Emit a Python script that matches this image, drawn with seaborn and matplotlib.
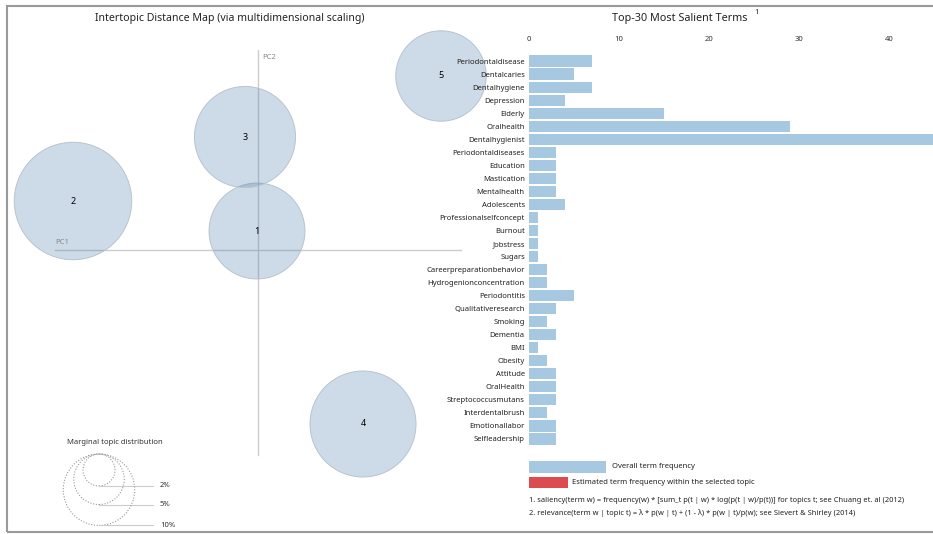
import matplotlib.pyplot as plt
import seaborn as sns
import numpy as np
from matplotlib.patches import Circle, Rectangle

# Topic data (MDS coordinates and marginal topic distribution in %)
topics = ['1', '2', '3', '4', '5']
pc1 = [-0.002, -0.370, -0.026, 0.210, 0.366]
pc2 = [0.038, 0.098, 0.226, -0.348, 0.348]
marginal = [18, 27, 20, 22, 16]

# Top-30 salient terms and overall frequency
terms = ['Periodontaldisease', 'Dentalcaries', 'Dentalhygiene', 'Depression', 'Elderly',
         'Oralhealth', 'Dentalhygienist', 'Periodontaldiseases', 'Education', 'Mastication',
         'Mentalhealth', 'Adolescents', 'Professionalselfconcept', 'Burnout', 'Jobstress',
         'Sugars', 'Careerpreparationbehavior', 'Hydrogenionconcentration', 'Periodontitis',
         'Qualitativeresearch', 'Smoking', 'Dementia', 'BMI', 'Obesity', 'Attitude',
         'OralHealth', 'Streptococcusmutans', 'Interdentalbrush', 'Emotionallabor',
         'Selfleadership']
freq = [7, 5, 7, 4, 15, 29, 47, 3, 3, 3, 3, 4, 1, 1, 1, 1, 2, 2, 5, 3, 2, 3, 1, 2, 3,
        3, 3, 2, 3, 3]
xticks = [0, 10, 20, 30, 40]
legend_pcts = [2, 5, 10]

plt.rcParams['font.family'] = ['Noto Sans', 'DejaVu Sans']

W, H = 933, 534
fig = plt.figure(figsize=(W / 100, H / 100), dpi=100)
fig.patch.set_facecolor('white')

def fx(px):
    return px / W

def fy(py):
    return 1 - py / H

# ---- Left panel: intertopic distance map ----
scale = 500.0  # pixels per MDS unit
ox, oy = 258, 250
ax = fig.add_axes([0, 0, 1, 1], zorder=0)
ax.set_xlim(-ox / scale, (W - ox) / scale)
ax.set_ylim(-(H - oy) / scale, oy / scale)
ax.axis('off')

rk = 0.0226  # radius per sqrt(percent)
ax.plot([0, 0], [-0.41, 0.40], color='#cccccc', lw=1, zorder=1)
ax.plot([-0.406, 0.406], [0, 0], color='#cccccc', lw=1, zorder=1)
ax.text(0.008, 0.385, 'PC2', fontsize=5.5, color='#888888', va='center')
ax.text(-0.406, 0.014, 'PC1', fontsize=5.5, color='#888888', va='center')

for t, x, y, p in zip(topics, pc1, pc2, marginal):
    ax.add_patch(Circle((x, y), rk * np.sqrt(p), facecolor='#3773a3', alpha=0.25,
                        edgecolor='none', zorder=2, clip_on=False))
    ax.add_patch(Circle((x, y), rk * np.sqrt(p), fill=False, edgecolor='#b8c4ce',
                        lw=0.7, zorder=2, clip_on=False))
    ax.text(x, y, t, ha='center', va='center', fontsize=6.5, fontweight='bold',
            color='black', zorder=3)

# marginal topic distribution legend
lx, ltop = -0.318, -0.408
ax.text(-0.382, -0.386, 'Marginal topic distribution', fontsize=5.5, color='#333333',
        va='center')
for p in legend_pcts:
    r = rk * np.sqrt(p)
    ax.add_patch(Circle((lx, ltop - r), r, fill=False, edgecolor='#999999', lw=0.8,
                        ls=(0, (1, 1.5)), zorder=2))
    ax.plot([lx, -0.21], [ltop - 2 * r, ltop - 2 * r], color='#cccccc', lw=0.8)
    ax.text(-0.196, ltop - 2 * r, f'{p}%', fontsize=5.5, color='#333333', va='center')

fig.text(fx(230), fy(19), 'Intertopic Distance Map (via multidimensional scaling)',
         ha='center', va='center', fontsize=7.6, color='#222222')

# ---- Right panel: salient terms bar chart ----
row = 13.03
top_px = 61 - row / 2
bot_px = 439 + row / 2
axb = fig.add_axes([fx(529), fy(bot_px), fx(933) - fx(529), (bot_px - top_px) / H], zorder=1)
axb.patch.set_alpha(0)
sns.barplot(x=freq, y=terms, orient='h', color='#a6c8e0', saturation=1, width=0.85,
            ax=axb)
axb.set_xlim(0, 44.9)
axb.xaxis.tick_top()
axb.set_xticks(xticks)
axb.tick_params(axis='x', length=0, pad=8, labelsize=5.5, labelcolor='#333333')
axb.tick_params(axis='y', length=0, pad=3, labelsize=5.5, labelcolor='#222222')
axb.set_xlabel('')
axb.set_ylabel('')
for s in axb.spines.values():
    s.set_visible(False)

fig.text(fx(680), fy(19), 'Top-30 Most Salient Terms', ha='center', va='center',
         fontsize=7.8, color='#222222')
fig.text(fx(754), fy(13), '1', ha='left', va='center', fontsize=5.5, color='#222222')

# bar legend
fig.add_artist(Rectangle((fx(529), fy(473)), fx(77), 12 / H, facecolor='#a6c8e0',
                         edgecolor='none', transform=fig.transFigure))
fig.text(fx(612), fy(466.5), 'Overall term frequency', fontsize=5.5, va='center',
         color='#222222')
fig.add_artist(Rectangle((fx(529), fy(488)), fx(39), 11 / H, facecolor='#dc4b4f',
                         edgecolor='none', transform=fig.transFigure))
fig.text(fx(572), fy(482), 'Estimated term frequency within the selected topic',
         fontsize=5.5, va='center', color='#222222')
fig.text(fx(529), fy(500),
         '1. saliency(term w) = frequency(w) * [sum_t p(t | w) * log(p(t | w)/p(t))] '
         'for topics t; see Chuang et. al (2012)', fontsize=5.4, va='center', color='#222222')
fig.text(fx(529), fy(513),
         '2. relevance(term w | topic t) = \u03bb * p(w | t) + (1 - \u03bb) * p(w | t)/p(w); '
         'see Sievert & Shirley (2014)', fontsize=5.4, va='center', color='#222222')

# outer frame
fig.add_artist(Rectangle((fx(6.5), fy(532)), fx(960), (532 - 6) / H, fill=False,
                         edgecolor='#999999', lw=1.5, transform=fig.transFigure,
                         clip_on=False))

fig.savefig('out.png', dpi=100)
